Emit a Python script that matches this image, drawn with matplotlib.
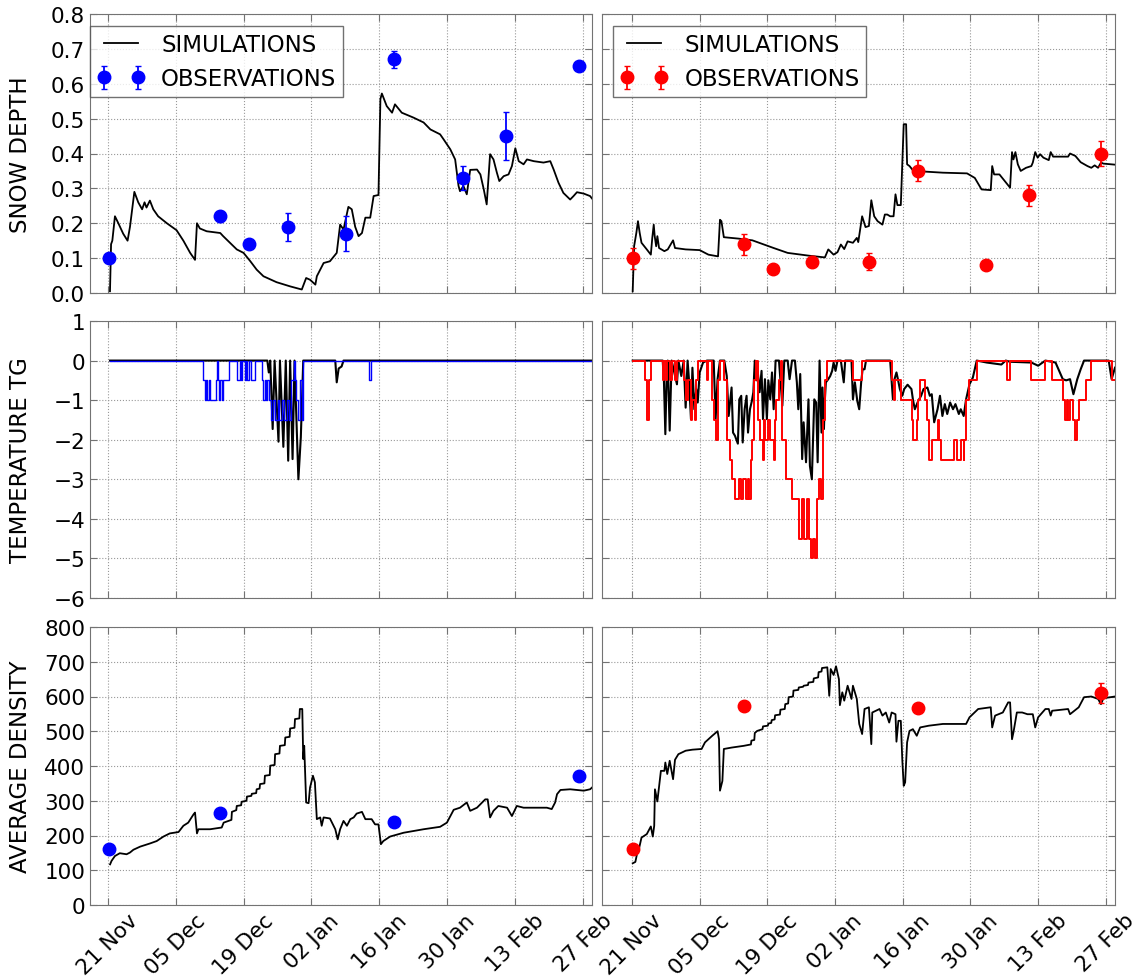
import datetime as dt
import numpy as np
import matplotlib
matplotlib.use('Agg')
import matplotlib.pyplot as plt
import matplotlib.dates as mdates
from matplotlib.ticker import FormatStrFormatter

plt.rcParams['font.family'] = ['DejaVu Sans']
plt.rcParams['font.size'] = 16

# dates are stored as days after 21 Nov
BASE = dt.datetime(2012, 11, 21)

# ---- snow depth (simulation: (day, depth)) ----
depth_sim_l = [(0.48, 0.005), (0.7, 0.14), (0.96, 0.15), (1.5, 0.22), (2.2, 0.20), (3.2, 0.17),
    (4.1, 0.15), (4.6, 0.19), (5.5, 0.29), (6.3, 0.26), (7.1, 0.24), (7.6, 0.26), (8.0, 0.245),
    (8.7, 0.265), (9.4, 0.24), (10.4, 0.22), (12.2, 0.20), (14.2, 0.18), (15.6, 0.15),
    (17.0, 0.115), (18.0, 0.095), (18.4, 0.20), (19.0, 0.185), (20.4, 0.177), (23.2, 0.172),
    (23.8, 0.163), (25.2, 0.144), (26.6, 0.125), (28.0, 0.115), (29.4, 0.091), (30.7, 0.067),
    (32.1, 0.048), (34.8, 0.031), (37.6, 0.019), (40.0, 0.01), (40.9, 0.043), (41.7, 0.038),
    (42.8, 0.024), (43.1, 0.048), (44.5, 0.086), (45.8, 0.091), (47.2, 0.115), (47.9, 0.196),
    (48.6, 0.182), (49.6, 0.247), (50.3, 0.24), (51.0, 0.19), (51.7, 0.163), (52.4, 0.172),
    (53.1, 0.216), (54.1, 0.216), (54.8, 0.278), (55.8, 0.281), (56.2, 0.556), (56.5, 0.572),
    (57.5, 0.536), (58.6, 0.517), (59.2, 0.541), (60.6, 0.517), (63.0, 0.503), (65.1, 0.489),
    (66.5, 0.469), (68.5, 0.455), (69.2, 0.441), (70.6, 0.412), (71.6, 0.383), (72.3, 0.307),
    (72.6, 0.292), (73.3, 0.307), (74.0, 0.283), (74.7, 0.353), (76.1, 0.354), (76.8, 0.34),
    (77.5, 0.297), (78.1, 0.254), (78.8, 0.398), (79.5, 0.383), (80.2, 0.345), (80.7, 0.321),
    (81.6, 0.335), (82.6, 0.34), (83.3, 0.364), (84.0, 0.415), (84.7, 0.378), (85.7, 0.369),
    (86.4, 0.383), (87.8, 0.378), (89.8, 0.374), (91.2, 0.378), (91.9, 0.354), (92.9, 0.316),
    (93.9, 0.287), (95.3, 0.268), (96.0, 0.278), (96.7, 0.289), (98.1, 0.285), (99.4, 0.278),
    (99.8, 0.271)]

depth_sim_r = [(0.15, 0.005), (0.44, 0.134), (0.9, 0.172), (1.24, 0.206), (1.6, 0.172),
    (1.97, 0.144), (3.06, 0.125), (3.9, 0.11), (4.2, 0.158), (4.5, 0.196), (4.7, 0.163),
    (5.0, 0.134), (5.25, 0.163), (5.6, 0.129), (6.7, 0.12), (7.4, 0.125), (8.5, 0.151),
    (8.9, 0.129), (11.1, 0.125), (14.0, 0.123), (15.8, 0.11), (17.8, 0.105), (18.2, 0.21),
    (18.5, 0.206), (19.0, 0.16), (22.0, 0.156), (24.9, 0.151), (29.3, 0.129), (32.2, 0.115),
    (36.6, 0.107), (39.9, 0.102), (40.6, 0.125), (41.7, 0.11), (42.5, 0.117), (43.2, 0.139),
    (43.9, 0.126), (44.6, 0.148), (45.7, 0.144), (46.5, 0.158), (46.8, 0.146), (47.6, 0.22),
    (48.3, 0.189), (49.0, 0.192), (49.5, 0.266), (50.1, 0.22), (50.8, 0.206), (51.8, 0.196),
    (52.3, 0.225), (52.8, 0.225), (53.4, 0.22), (54.1, 0.22), (54.5, 0.283), (54.9, 0.252),
    (55.6, 0.252), (56.2, 0.484), (56.7, 0.484), (56.9, 0.369), (57.4, 0.364), (58.1, 0.352),
    (60.7, 0.348), (64.3, 0.345), (69.3, 0.343), (70.9, 0.33), (72.3, 0.297), (74.2, 0.295),
    (74.5, 0.364), (74.9, 0.34), (76.0, 0.34), (77.1, 0.321), (78.2, 0.302), (78.6, 0.404),
    (78.9, 0.383), (79.3, 0.404), (79.8, 0.369), (80.4, 0.35), (81.5, 0.359), (82.6, 0.364),
    (82.9, 0.374), (83.4, 0.404), (83.9, 0.388), (84.4, 0.398), (85.1, 0.388), (86.2, 0.381),
    (86.6, 0.404), (87.1, 0.391), (90.2, 0.391), (90.6, 0.4), (91.7, 0.393), (92.8, 0.375),
    (94.2, 0.364), (95.0, 0.359), (95.7, 0.366), (96.4, 0.359), (97.0, 0.374), (97.5, 0.371),
    (99.9, 0.368)]

# observations (same dates in both columns)
depth_obs_days = [0.2, 23.1, 29.15, 37.2, 49.1, 59.1, 73.2, 82.1, 97.05]
depth_obs_l = [0.10, 0.22, 0.14, 0.19, 0.17, 0.67, 0.33, 0.45, 0.65]
depth_err_l = [0.005, 0.015, 0.005, 0.04, 0.05, 0.025, 0.035, 0.07, 0.01]
depth_obs_r = [0.10, 0.14, 0.07, 0.09, 0.09, 0.35, 0.08, 0.28, 0.40]
depth_err_r = [0.03, 0.03, 0.0, 0.015, 0.025, 0.03, 0.0, 0.03, 0.035]

# ---- ground temperature TG ----
temp_sim_l = [(0.5, 0), (32.9, 0), (33.2, -0.3), (33.5, 0), (34.0, -1.73), (34.4, 0),
    (35.2, -2.05), (35.5, 0), (36.2, -2.18), (36.7, 0), (37.2, -2.53), (37.6, 0),
    (38.1, -2.49), (38.5, 0), (39.3, -3.0), (39.8, -1.94), (40.3, 0), (46.9, 0),
    (47.2, -0.55), (47.6, -0.2), (48.2, -0.15), (48.6, 0), (99.8, 0)]

# observed TG is stepped (0.5 degree resolution): change points
temp_obs_l = [(0.5, 0), (19.7, -0.5), (20.0, -1.0), (20.3, -0.5), (20.5, -1.0), (20.8, -0.5),
    (21.0, -1.0), (22.4, -0.5), (22.6, 0), (22.8, -0.5), (23.0, -1.0), (23.2, -0.5),
    (23.5, -1.0), (23.7, -0.5), (25.0, 0), (26.6, -0.5), (27.2, 0), (27.4, -0.5), (27.7, 0),
    (28.2, -0.5), (28.5, 0), (28.8, -0.5), (29.2, 0), (29.5, -0.5), (30.4, 0), (31.9, -0.5),
    (32.1, -1.0), (32.4, -0.5), (32.6, -1.0), (32.9, -0.5), (33.2, -1.0), (33.6, -1.5),
    (34.0, -1.0), (34.4, -1.5), (35.0, -1.0), (35.3, -1.5), (36.0, -1.0), (36.3, -1.5),
    (37.0, -1.0), (37.4, -1.5), (37.8, -0.5), (38.4, 0), (38.6, -0.5), (38.9, -1.0),
    (39.2, -1.5), (39.6, -0.5), (40.0, -1.5), (40.3, 0), (53.95, -0.5), (54.3, 0), (99.8, 0)]

temp_sim_r = [(0.15, 0), (6.35, 0), (6.6, -0.47), (6.9, -1.86), (7.15, -0.5), (7.4, 0),
    (7.8, -1.77), (8.2, 0), (9.3, -0.6), (9.6, 0), (10.2, -0.39), (10.7, 0), (11.1, -1.19),
    (11.5, 0), (11.8, -0.5), (12.2, -1.48), (12.5, -0.18), (12.9, -1.23), (13.3, -0.72),
    (13.6, -1.06), (14.0, -0.3), (14.7, -0.05), (15.5, 0), (16.9, 0), (17.3, -1.48),
    (17.7, -0.47), (18.2, 0), (19.1, 0), (19.6, -0.39), (20.0, -1.4), (20.6, -0.68),
    (20.9, -1.82), (21.3, -1.9), (21.9, -2.1), (22.2, -0.98), (22.6, -0.89), (22.9, -2.07),
    (23.3, -1.23), (23.7, -0.89), (24.0, -1.82), (24.4, -1.23), (24.8, -1.02), (25.1, -0.8),
    (25.4, 0), (25.7, -0.5), (26.0, -0.26), (26.4, -0.8), (26.8, -0.26), (27.1, -1.48),
    (27.5, -0.47), (27.9, -1.48), (28.2, -0.5), (28.6, -0.98), (28.96, -0.3), (29.3, -1.23),
    (29.7, 0), (30.4, 0), (30.8, -0.64), (31.1, -1.14), (31.5, 0), (32.2, 0), (32.6, -0.47),
    (33.1, 0), (33.7, 0), (34.1, -0.55), (34.4, -1.23), (34.8, -0.34), (35.2, -2.49),
    (35.5, -1.56), (36.0, -2.57), (36.5, -0.98), (36.8, -2.66), (37.2, -3.0), (37.7, -0.98),
    (38.1, -1.06), (38.4, -2.57), (38.8, 0), (39.2, -1.82), (39.4, -0.68), (39.7, -1.73),
    (39.9, -0.98), (40.1, -0.55), (40.6, -0.47), (41.0, -0.39), (41.4, -0.26), (41.7, -0.05),
    (42.1, -0.26), (42.5, 0), (43.2, 0), (43.8, -0.55), (44.1, 0), (45.4, 0), (45.7, -0.98),
    (46.1, -0.55), (46.6, -1.02), (47.0, -1.23), (47.4, -0.55), (47.7, -0.22), (48.1, -0.22),
    (48.4, 0), (53.4, 0), (53.97, -0.98), (54.3, -0.47), (54.7, -0.3), (55.0, -0.47),
    (55.4, -0.72), (55.9, -0.89), (56.3, -0.72), (57.0, -0.61), (57.8, -0.72), (58.1, -0.98),
    (58.5, -1.23), (59.2, -1.02), (59.8, -0.89), (60.3, -0.72), (61.1, -0.68), (61.6, -0.89),
    (62.0, -0.85), (62.5, -1.56), (63.2, -1.23), (63.7, -0.89), (64.2, -1.4), (64.7, -1.1),
    (65.2, -1.35), (65.8, -1.06), (66.4, -1.23), (66.9, -1.1), (67.6, -1.35), (68.0, -1.23),
    (68.6, -1.4), (69.1, -0.98), (69.8, -0.6), (70.5, -0.43), (71.3, 0), (73.4, -0.05),
    (76.4, -0.1), (77.3, 0), (78.2, -0.03), (82.6, -0.05), (84.0, -0.13), (85.5, 0),
    (87.6, -0.05), (89.1, -0.47), (89.8, -0.5), (90.6, -0.47), (91.3, -0.85), (92.1, -0.47),
    (92.8, -0.22), (93.5, 0), (98.6, 0), (99.2, -0.47), (99.9, -0.18)]

temp_obs_r = [(0.15, 0), (2.7, -0.5), (3.06, -1.5), (3.57, -0.5), (3.94, 0), (6.35, -0.5),
    (6.7, 0), (7.0, -0.5), (7.3, 0), (7.8, -0.5), (8.3, 0), (8.9, -0.5), (9.3, 0),
    (10.7, -0.5), (11.1, -1.0), (11.6, -0.5), (12.2, -1.5), (12.5, -1.0), (13.1, -1.5),
    (13.3, -0.5), (13.6, 0), (15.5, -0.5), (15.8, 0), (16.6, -1.0), (16.9, -1.5),
    (17.3, -2.0), (17.7, -0.5), (18.2, 0), (19.1, -0.5), (19.7, -2.0), (20.2, -2.5),
    (20.6, -3.0), (21.3, -3.5), (22.2, -3.0), (22.6, -3.5), (23.0, -3.0), (23.5, -3.5),
    (23.9, -3.0), (24.3, -3.5), (24.6, -2.5), (24.9, -2.0), (25.3, -0.5), (25.7, 0),
    (26.0, -1.5), (26.4, -2.0), (27.1, -2.5), (27.3, -1.5), (27.5, -2.0), (28.2, -1.5),
    (28.6, -2.0), (29.3, -2.5), (29.5, -1.5), (29.7, -1.0), (30.4, -0.5), (30.8, 0),
    (31.1, -2.0), (31.9, -3.0), (33.0, -3.5), (34.6, -4.5), (35.1, -3.5), (35.5, -4.5),
    (36.3, -3.5), (36.7, -4.5), (37.0, -5.0), (37.4, -4.5), (37.8, -5.0), (38.3, -3.5),
    (38.7, -3.0), (39.1, -3.5), (39.5, -1.5), (39.9, -0.5), (40.3, 0), (45.7, -0.5),
    (47.6, 0), (53.8, -0.5), (54.1, -1.0), (54.3, -0.5), (55.6, -1.0), (57.9, -1.5),
    (58.1, -2.0), (58.9, -1.5), (59.1, -1.0), (59.6, -0.5), (60.7, -1.0), (61.1, -1.5),
    (61.4, -2.5), (62.1, -2.0), (63.2, -1.5), (63.6, -2.0), (64.0, -2.5), (66.5, -2.0),
    (67.2, -2.5), (68.0, -2.0), (68.6, -2.5), (68.7, -2.0), (69.1, -1.0), (69.8, -0.5),
    (71.3, 0), (77.5, -0.5), (78.2, 0), (82.6, -0.5), (85.5, 0), (86.9, -0.5), (89.1, -1.0),
    (89.5, -1.5), (89.9, -1.0), (90.2, -1.5), (90.6, -1.0), (91.3, -1.5), (91.7, -2.0),
    (92.1, -1.5), (92.4, -1.0), (93.9, -0.5), (95.0, 0), (99.3, -0.5), (99.9, -0.5)]

# ---- average density ----
dens_sim_l = [(0.5, 117), (0.8, 127), (1.5, 141), (2.5, 149), (3.9, 146), (4.6, 151),
    (5.3, 159), (6.7, 168), (8.7, 177), (10.1, 184), (11.5, 197), (12.8, 206), (14.6, 210),
    (15.6, 228), (16.6, 237), (17.7, 261), (18.0, 266), (18.4, 206), (18.7, 218), (21.1, 218),
    (23.5, 223), (23.9, 237), (24.9, 242), (25.5, 245), (25.6, 268), (26.5, 273), (26.6, 285),
    (27.5, 287), (27.6, 297), (28.6, 300), (28.7, 312), (29.6, 314), (29.7, 320), (30.6, 322),
    (30.7, 333), (31.3, 335), (31.4, 348), (32.3, 350), (32.4, 372), (33.4, 374), (33.5, 401),
    (34.4, 403), (34.5, 434), (35.4, 436), (35.5, 458), (36.5, 460), (36.6, 482), (37.5, 484),
    (37.6, 508), (38.5, 510), (38.6, 535), (39.5, 537), (39.6, 564), (40.1, 564), (40.3, 420),
    (40.5, 458), (40.9, 295), (41.4, 293), (41.7, 338), (42.3, 372), (42.7, 353), (43.1, 247),
    (43.8, 252), (44.1, 228), (44.5, 252), (45.8, 249), (46.9, 218), (47.4, 189), (47.9, 218),
    (48.6, 242), (49.3, 228), (50.0, 247), (50.7, 252), (51.3, 263), (52.4, 268), (53.1, 247),
    (54.4, 247), (55.1, 232), (55.8, 232), (56.3, 175), (56.8, 184), (58.2, 197), (61.0, 208),
    (65.1, 218), (68.5, 225), (69.9, 237), (71.3, 274), (72.6, 280), (74.0, 295), (74.7, 271),
    (76.1, 280), (77.8, 304), (78.3, 304), (78.8, 252), (79.5, 271), (80.5, 285), (82.3, 280),
    (83.3, 256), (84.3, 285), (85.7, 280), (88.5, 280), (90.5, 280), (91.5, 276), (92.2, 295),
    (92.6, 319), (93.3, 331), (95.3, 333), (98.1, 329), (99.4, 333), (99.8, 338)]

dens_sim_r = [(0.15, 120), (0.7, 124), (1.1, 151), (1.5, 165), (1.97, 194), (3.06, 204),
    (3.9, 226), (4.3, 197), (4.6, 228), (4.75, 333), (5.25, 298), (5.98, 386), (6.7, 386),
    (6.9, 410), (7.3, 377), (7.8, 415), (8.5, 362), (8.9, 418), (9.6, 434), (11.1, 444),
    (12.5, 447), (14.4, 449), (15.1, 468), (16.6, 487), (17.7, 500), (18.0, 477), (18.2, 329),
    (18.7, 357), (19.0, 449), (20.6, 453), (23.1, 458), (24.6, 462), (24.7, 473), (25.3, 475),
    (25.4, 495), (25.9, 501), (27.0, 506), (27.1, 514), (28.1, 516), (28.2, 522), (28.8, 524),
    (28.9, 532), (29.5, 534), (29.6, 546), (30.6, 548), (30.7, 562), (31.6, 564), (31.7, 578),
    (32.3, 580), (32.4, 598), (33.3, 600), (33.4, 617), (34.4, 619), (34.5, 626), (35.4, 628),
    (35.5, 631), (36.4, 633), (36.5, 640), (37.5, 642), (37.6, 652), (38.5, 655), (38.6, 670),
    (39.2, 672), (39.3, 682), (40.4, 684), (40.8, 602), (41.1, 679), (41.7, 662), (42.2, 687),
    (42.8, 650), (43.0, 575), (43.5, 612), (43.9, 588), (44.6, 631), (45.4, 593), (45.7, 631),
    (46.5, 593), (47.0, 521), (47.6, 492), (48.1, 564), (49.0, 569), (49.5, 463), (49.7, 554),
    (51.2, 564), (51.8, 545), (52.5, 554), (53.2, 525), (53.7, 554), (54.5, 549), (54.7, 470),
    (55.1, 530), (55.6, 530), (55.9, 420), (56.2, 343), (56.5, 353), (56.9, 468), (57.4, 501),
    (58.1, 506), (58.9, 487), (59.6, 511), (61.4, 516), (64.3, 521), (69.1, 521), (69.8, 540),
    (71.6, 564), (74.2, 569), (74.5, 511), (75.1, 545), (76.7, 554), (77.8, 583), (78.2, 583),
    (78.6, 477), (78.9, 497), (79.6, 554), (80.7, 554), (81.8, 549), (82.9, 549), (83.4, 511),
    (84.0, 540), (85.5, 564), (86.2, 564), (86.6, 545), (86.9, 559), (90.2, 564), (90.6, 549),
    (92.4, 569), (93.5, 598), (95.0, 600), (96.4, 593), (97.0, 578), (97.5, 595), (99.9, 600)]

dens_obs_days = [0.2, 23.1, 59.1, 97.05]
dens_obs_l = [160, 266, 240, 372]
dens_err_l = [4, 4, 4, 10]
dens_obs_r = [160, 573, 566, 610]
dens_err_r = [6, 12, 4, 30]

ROW_LABELS = ['SNOW DEPTH', 'TEMPERATURE TG', 'AVERAGE DENSITY']
TICK_DAYS = [0, 14, 28, 42, 56, 70, 84, 98]


def xd(days):
    return mdates.date2num(BASE) + np.asarray(days, dtype=float)


def split(pts):
    d, v = zip(*pts)
    return xd(d), np.array(v)


W, H = 1143., 979.
# axes rectangles in pixels
cols = [(90, 592), (602, 1115)]
rows = [(15, 294), (322, 599), (628, 906)]
xlims = [(-3.64, 99.8), (-6.2, 99.9)]
ylims = [(0, 0.8), (-6, 1), (0, 800)]
yticks = [np.arange(0, 0.81, 0.1), np.arange(-6, 1.1, 1), np.arange(0, 801, 100)]
leg_x = [0.0, 0.022]

fig = plt.figure(figsize=(W / 100, H / 100), dpi=100)
axes = [[None, None] for _ in range(3)]
for r, (top, bot) in enumerate(rows):
    for c, (lft, rgt) in enumerate(cols):
        ax = fig.add_axes([lft / W, 1 - bot / H, (rgt - lft) / W, (bot - top) / H])
        axes[r][c] = ax
        ax.set_xlim(xd(xlims[c]))
        ax.set_ylim(ylims[r])
        ax.set_yticks(yticks[r])
        ax.set_xticks(xd(TICK_DAYS))
        ax.xaxis.set_major_formatter(mdates.DateFormatter('%d %b'))
        ax.grid(True, ls=':', color='0.6', lw=0.8)
        ax.tick_params(direction='in', top=True, right=True, length=5, color='0.45',
                       labelsize=15.5)
        for s in ax.spines.values():
            s.set_color('0.45')
        if r < 2:
            ax.tick_params(labelbottom=False)
        else:
            for lab in ax.get_xticklabels():
                lab.set_rotation(45)
                lab.set_ha('center')
        if c == 1:
            ax.tick_params(labelleft=False)
        else:
            ax.set_ylabel(ROW_LABELS[r], fontsize=16.5)
            ax.yaxis.set_label_coords(-0.115, 0.5)

axes[0][0].yaxis.set_major_formatter(FormatStrFormatter('%.1f'))

# snow depth
for c, (sim, obs, err, col) in enumerate([(depth_sim_l, depth_obs_l, depth_err_l, 'blue'),
                                          (depth_sim_r, depth_obs_r, depth_err_r, 'red')]):
    ax = axes[0][c]
    x, y = split(sim)
    ax.plot(x, y, color='black', lw=1.3, label='SIMULATIONS')
    ax.errorbar(xd(depth_obs_days), obs, yerr=err, fmt='o', color=col, mec=col, ms=9,
                elinewidth=1.3, capsize=2, label='OBSERVATIONS')
    leg = ax.legend(loc='upper left', bbox_to_anchor=(leg_x[c], 0.957),
                    borderaxespad=0, numpoints=2, fancybox=False, fontsize=16.5,
                    handlelength=2.1, handletextpad=0.7, borderpad=0.3,
                    labelspacing=0.5)
    leg.get_frame().set_edgecolor('0.3')
    leg.get_frame().set_linewidth(1.0)

# temperature
for c, (sim, obs, col, lw) in enumerate([(temp_sim_l, temp_obs_l, 'blue', 1.0),
                                         (temp_sim_r, temp_obs_r, 'red', 1.4)]):
    ax = axes[1][c]
    x, y = split(sim)
    ax.plot(x, y, color='black', lw=1.5)
    x, y = split(obs)
    ax.plot(x, y, color=col, lw=lw, drawstyle='steps-post')

# density
for c, (sim, obs, err, col) in enumerate([(dens_sim_l, dens_obs_l, dens_err_l, 'blue'),
                                          (dens_sim_r, dens_obs_r, dens_err_r, 'red')]):
    ax = axes[2][c]
    x, y = split(sim)
    ax.plot(x, y, color='black', lw=1.3)
    ax.errorbar(xd(dens_obs_days), obs, yerr=err, fmt='o', color=col, mec=col, ms=9,
                elinewidth=1.3, capsize=2)

fig.savefig('out.png', dpi=100)
